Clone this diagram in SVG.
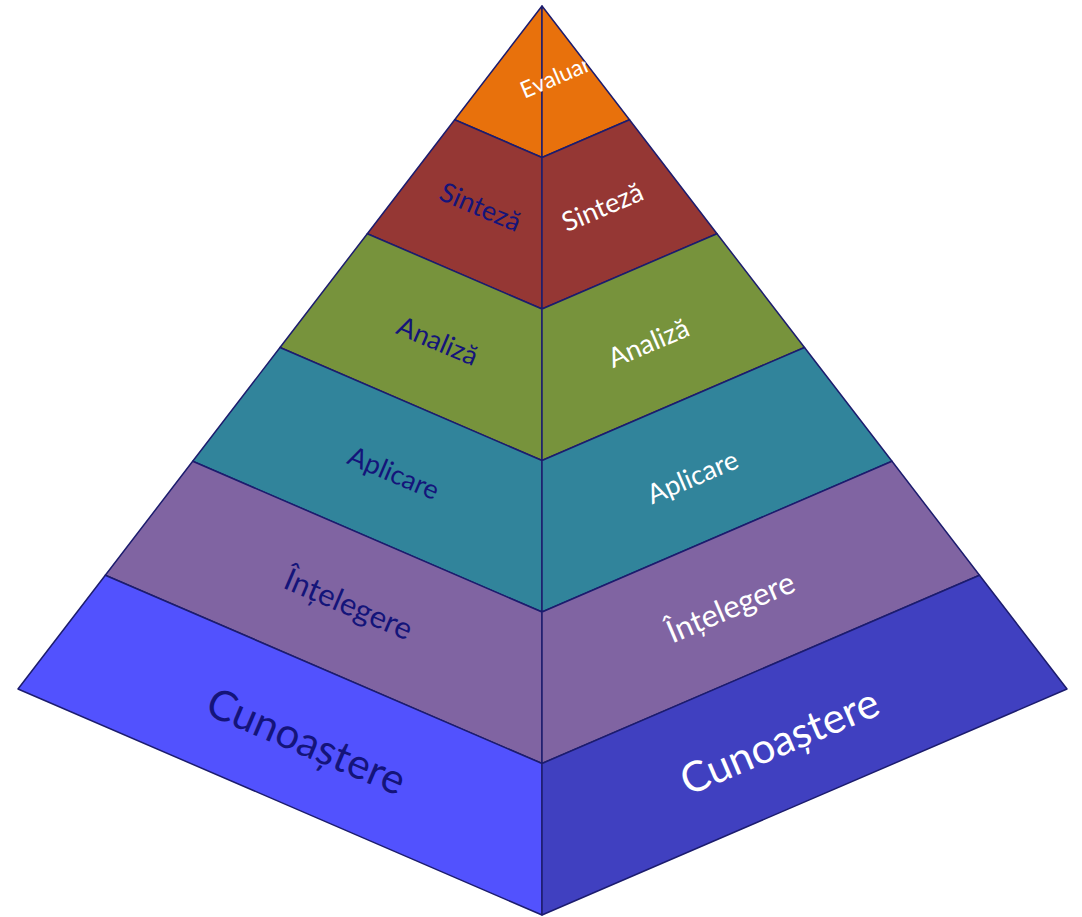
<svg xmlns="http://www.w3.org/2000/svg" width="1082" height="917" viewBox="0 0 1082 917">
<style>
.face{stroke:#1c1c6e;stroke-width:1.5;stroke-linejoin:round}
.lt{font-family:Lato,"Open Sans","Liberation Sans",sans-serif;fill:#14147a;text-anchor:middle;dominant-baseline:central}
.rt{font-family:Lato,"Open Sans","Liberation Sans",sans-serif;fill:#ffffff;text-anchor:middle;dominant-baseline:central}
</style>
<defs>
<clipPath id="topclip"><polygon points="542,6 454.7,119.8 542,157.5 629.5,119.8"/></clipPath>
</defs>
<rect width="1082" height="917" fill="#ffffff"/>
<g id="evaluare">
<polygon class="face" fill="#e8710c" points="542,6 454.7,119.8 542,157.5"/>
<polygon class="face" fill="#e8710c" points="542,6 629.5,119.8 542,157.5"/>
<g clip-path="url(#topclip)"><text class="rt" font-size="23" transform="translate(555,76) rotate(-23)">Evaluar</text></g>
</g>
<g id="sinteza">
<polygon class="face" fill="#953734" points="454.7,119.8 367.3,233.7 542,309 542,157.5"/>
<polygon class="face" fill="#953734" points="629.5,119.8 717,233.7 542,309 542,157.5"/>
<text class="lt" font-size="27" transform="translate(481,206) rotate(23)">Sinteză</text>
<text class="rt" font-size="27" transform="translate(602,206) rotate(-23)">Sinteză</text>
</g>
<g id="analiza">
<polygon class="face" fill="#77933c" points="367.3,233.7 280,347.5 542,460.5 542,309"/>
<polygon class="face" fill="#77933c" points="717,233.7 804.5,347.5 542,460.5 542,309"/>
<text class="lt" font-size="27" transform="translate(438,340) rotate(23)">Analiză</text>
<text class="rt" font-size="27" transform="translate(648,342) rotate(-23)">Analiză</text>
</g>
<g id="aplicare">
<polygon class="face" fill="#31849b" points="280,347.5 192.7,461.3 542,612 542,460.5"/>
<polygon class="face" fill="#31849b" points="804.5,347.5 892,461.3 542,612 542,460.5"/>
<text class="lt" font-size="27" transform="translate(394,472) rotate(23)">Aplicare</text>
<text class="rt" font-size="27" transform="translate(692,476) rotate(-23)">Aplicare</text>
</g>
<g id="intelegere">
<polygon class="face" fill="#8064a2" points="192.7,461.3 105.3,575.2 542,763.5 542,612"/>
<polygon class="face" fill="#8064a2" points="892,461.3 979.5,575.2 542,763.5 542,612"/>
<text class="lt" font-size="31" transform="translate(349,603) rotate(23)">Înțelegere</text>
<text class="rt" font-size="31" transform="translate(730,606) rotate(-23)">Înțelegere</text>
</g>
<g id="cunoastere">
<polygon class="face" fill="#5252fe" points="105.3,575.2 18,689 542,915 542,763.5"/>
<polygon class="face" fill="#4040c0" points="979.5,575.2 1067,689 542,915 542,763.5"/>
<text class="lt" font-size="42" transform="translate(307,740) rotate(23)">Cunoaștere</text>
<text class="rt" font-size="42" transform="translate(779,740) rotate(-23)">Cunoaștere</text>
</g>
<g id="connectors"></g>
</svg>
